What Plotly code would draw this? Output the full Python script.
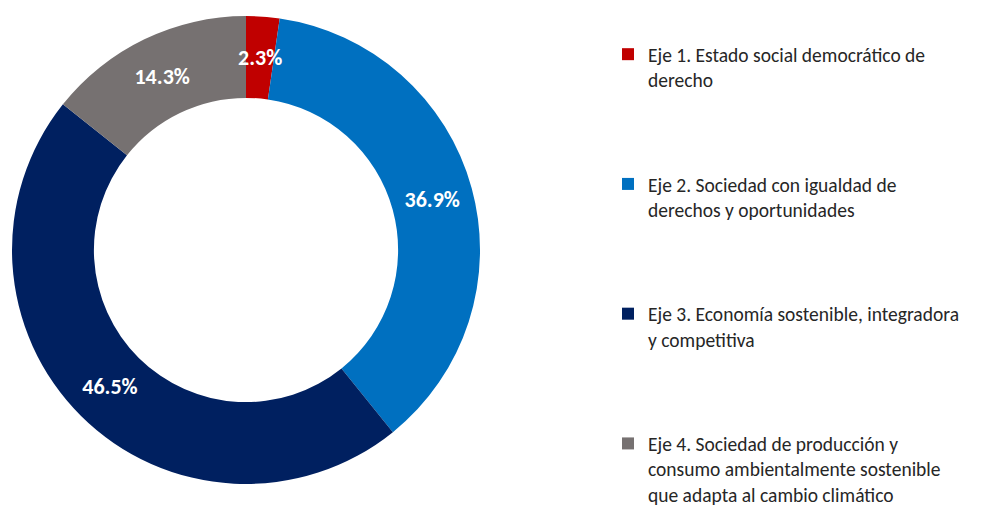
import math
import plotly.graph_objects as go

labels = [
    "Eje 1. Estado social democrático de<br>derecho",
    "Eje 2. Sociedad con igualdad de<br>derechos y oportunidades",
    "Eje 3. Economía sostenible, integradora<br>y competitiva",
    "Eje 4. Sociedad de producción y<br>consumo ambientalmente sostenible<br>que adapta al cambio climático",
]
values = [2.3, 36.9, 46.5, 14.3]
colors = ["#C00000", "#0070C0", "#002060", "#767171"]
text_labels = ["2.3%", "36.9%", "46.5%", "14.3%"]

W, H = 990, 506
HOLE = 0.65
dom_x = [4 / W, 472 / W]
dom_y = [1 - 476 / H, 1 - 8 / H]

# blank lines so the legend entries are spread out like the original
pad = "<br>\u00a0" * 3
legend_names = [lab + pad if i < len(labels) - 1 else lab for i, lab in enumerate(labels)]

label_font = dict(family="Carlito, Lato, sans-serif", size=22, color="white", weight="bold")

fig = go.Figure()
fig.add_trace(go.Pie(
    labels=legend_names,
    values=values,
    text=text_labels,
    textinfo="text",
    textposition=["none", "inside", "inside", "inside"],
    insidetextorientation="horizontal",
    textfont=label_font,
    marker=dict(colors=colors, line=dict(color="white", width=0)),
    hole=HOLE,
    sort=False,
    direction="clockwise",
    rotation=0,
    domain=dict(x=dom_x, y=dom_y),
))

# the tiny first slice: put its label in the middle of the ring
cx = (dom_x[0] + dom_x[1]) / 2 * W
cy = (1 - (dom_y[0] + dom_y[1]) / 2) * H
R = (dom_y[1] - dom_y[0]) * H / 2
r_mid = R * (1 + HOLE) / 2
theta = math.radians(values[0] / sum(values) * 360 / 2)
fig.add_annotation(
    x=(cx + r_mid * math.sin(theta)) / W,
    y=1 - (cy - r_mid * math.cos(theta)) / H,
    xref="paper", yref="paper",
    xanchor="center", yanchor="middle",
    text=text_labels[0],
    showarrow=False,
    font=label_font,
)

fig.update_layout(
    width=W,
    height=H,
    margin=dict(l=0, r=0, t=0, b=0),
    paper_bgcolor="white",
    plot_bgcolor="white",
    showlegend=True,
    uniformtext=dict(minsize=22, mode="show"),
    legend=dict(
        x=600 / W,
        y=1 - 32 / H,
        xanchor="left",
        yanchor="top",
        valign="top",
        font=dict(family="Carlito, Lato, sans-serif", size=19.5, color="#262626"),
        itemclick=False,
    ),
)

fig.write_html("out.html")
